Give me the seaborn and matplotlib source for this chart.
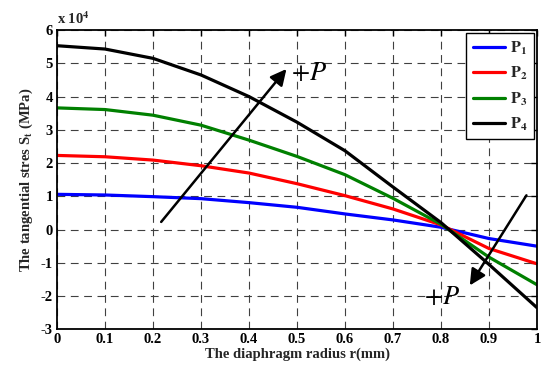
import matplotlib
matplotlib.use("Agg")
import matplotlib.pyplot as plt
import numpy as np
import pandas as pd
import seaborn as sns

# Tangential stress along the diaphragm radius for four pressure levels (units of 1e4 MPa)
radius = [0.0, 0.1, 0.2, 0.3, 0.4, 0.5, 0.6, 0.7, 0.8, 0.9, 1.0]
stress_p1 = [1.06, 1.04, 0.99, 0.93, 0.81, 0.67, 0.47, 0.29, 0.07, -0.27, -0.50]
stress_p2 = [2.23, 2.19, 2.09, 1.92, 1.70, 1.38, 1.02, 0.62, 0.14, -0.57, -1.03]
stress_p3 = [3.66, 3.61, 3.44, 3.14, 2.69, 2.20, 1.65, 0.94, 0.16, -0.83, -1.66]
stress_p4 = [5.53, 5.43, 5.15, 4.65, 4.00, 3.23, 2.37, 1.28, 0.21, -1.05, -2.35]
series_names = ["P1", "P2", "P3", "P4"]
legend_labels = [r"$\mathbf{P_1}$", r"$\mathbf{P_2}$", r"$\mathbf{P_3}$", r"$\mathbf{P_4}$"]
x_ticks = [0, 0.1, 0.2, 0.3, 0.4, 0.5, 0.6, 0.7, 0.8, 0.9, 1]
y_ticks = [-3, -2, -1, 0, 1, 2, 3, 4, 5, 6]

frames = []
for name, vals in zip(series_names, [stress_p1, stress_p2, stress_p3, stress_p4]):
    frames.append(pd.DataFrame({"r": radius, "St": vals, "series": name}))
df = pd.concat(frames, ignore_index=True)

sns.set_style("white")
plt.rcParams["font.family"] = ["Liberation Serif", "DejaVu Serif"]
plt.rcParams["mathtext.fontset"] = "stix"

fig = plt.figure(figsize=(5.41, 3.67), dpi=100)
ax = fig.add_axes([0.1054, 0.1027, 0.8872, 0.8153])

palette = {"P1": "#0000ff", "P2": "#ff0000", "P3": "#008000", "P4": "#000000"}
sns.lineplot(data=df, x="r", y="St", hue="series", palette=palette,
             linewidth=2.3, ax=ax, legend=True)

ax.set_xlim(0, 1)
ax.set_ylim(-3, 6)
ax.set_xticks(x_ticks)
ax.set_xticklabels([f"{v:g}" for v in x_ticks])
ax.set_yticks(y_ticks)
ax.set_yticklabels([f"{v:g}" for v in y_ticks])
ax.tick_params(direction="in", length=4, width=1, top=True, right=True,
               labelsize=10.5, pad=3, colors="black")
for lbl in ax.get_xticklabels() + ax.get_yticklabels():
    lbl.set_fontweight("bold")
for s in ax.spines.values():
    s.set_linewidth(1.3)
    s.set_color("black")

ax.grid(True, color="0.25", linewidth=0.8, linestyle=(0, (7, 5)))
ax.set_axisbelow(True)

ax.set_xlabel("The diaphragm radius r(mm)", fontsize=10.5, fontweight="bold", labelpad=1)
ax.set_ylabel(r"The tangential stres S$_\mathbf{t}$ (MPa)", fontsize=10.5,
              fontweight="bold", labelpad=4)
ax.text(0.0, 1.012, r"x 10$^\mathbf{4}$", transform=ax.transAxes, fontsize=10.5,
        fontweight="bold", ha="left", va="bottom")

handles, _ = ax.get_legend_handles_labels()
leg = ax.legend(handles, legend_labels, loc="upper right", bbox_to_anchor=(0.994, 0.99),
                frameon=True, fancybox=False, edgecolor="black", framealpha=1,
                fontsize=11.5, handlelength=2.0, handletextpad=0.35, labelspacing=0.5,
                borderpad=0.4, borderaxespad=0.0)
leg.get_frame().set_linewidth(1.0)
for line in leg.get_lines():
    line.set_linewidth(2.3)

# Direction of increasing pressure
arrow = dict(arrowstyle="-|>", color="black", lw=1.8, mutation_scale=24,
             shrinkA=0, shrinkB=0)
ax.annotate("", xy=(0.478, 4.83), xytext=(0.217, 0.23), arrowprops=arrow)
ax.text(0.488, 4.68, r"$+P$", fontsize=19, fontweight="normal",
        ha="left", va="center", color="black")
ax.annotate("", xy=(0.86, -1.68), xytext=(0.978, 1.03), arrowprops=arrow)
ax.text(0.765, -2.05, r"$+P$", fontsize=19, fontweight="normal",
        ha="left", va="center", color="black")

fig.savefig("out.png", dpi=100)
